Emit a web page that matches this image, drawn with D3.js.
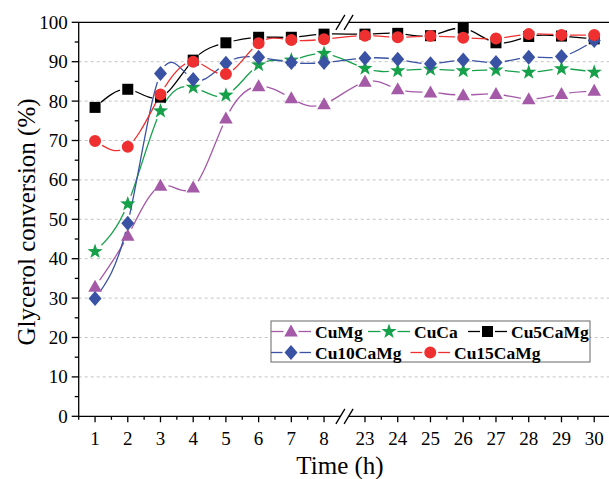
<!DOCTYPE html>
<html><head><meta charset="utf-8">
<script src="https://cdn.jsdelivr.net/npm/d3@7"></script>
<style>body{margin:0;background:#fff}svg{display:block}</style>
</head><body>
<script>
const times = [1,2,3,4,5,6,7,8,23,24,25,26,27,28,29,30];
const xTickLabels = ["1","2","3","4","5","6","7","8","23","24","25","26","27","28","29","30"];
const yTicks = [0,10,20,30,40,50,60,70,80,90,100];
const seriesNames = ["CuMg","CuCa","Cu5CaMg","Cu10CaMg","Cu15CaMg"];
const CuMg     = [32.9,45.8,58.5,58.1,75.6,83.8,80.7,79.2, 84.9,83.0,82.2,81.5,81.8,80.5,81.8,82.6];
const CuCa     = [41.8,53.9,77.5,83.5,81.5,89.2,90.4,92.1, 88.3,87.7,88.1,87.7,87.9,87.3,88.2,87.3];
const Cu5CaMg  = [78.4,83.0,81.0,90.4,94.8,96.2,96.2,97.0, 97.0,97.2,96.6,98.5,94.8,96.4,96.5,95.8];
const Cu10CaMg = [29.9,49.0,87.0,85.5,89.6,91.1,89.8,89.8, 90.9,90.6,89.5,90.4,89.8,91.1,91.3,95.4];
const Cu15CaMg = [69.9,68.4,81.7,90.0,86.9,94.7,95.5,95.7, 96.6,96.2,96.5,96.1,95.9,97.0,96.8,96.8];
const colors = ["#a55aa8","#16a04a","#000000","#3a52a3","#ee3030"];
const markers = ["triangle","star","square","diamond","circle"];
const values = [CuMg,CuCa,Cu5CaMg,Cu10CaMg,Cu15CaMg];

const W=609,H=479;
const svg=d3.select("body").append("svg").attr("width",W).attr("height",H);
const x=d3.scaleLinear().domain([0.5,8.5,22.5,30.5]).range([78.7,340.4,348.6,610.6]);
const y=d3.scaleLinear().domain([0,100]).range([416.3,22.3]);
const font="'Liberation Serif','Times New Roman',serif";

// grid
svg.append("g").selectAll("line").data(yTicks.filter(d=>d>0&&d<100)).join("line")
  .attr("x1",x(0.5)).attr("x2",x(30.5)).attr("y1",d=>y(d)).attr("y2",d=>y(d))
  .attr("stroke","#c4c4c4").attr("stroke-width",1).attr("stroke-dasharray","3,3");

function markerPath(type){
  if(type==="triangle") return "M0,-7L6.8,5L-6.8,5Z";
  if(type==="square") return "M-5.5,-5.5H5.5V5.5H-5.5Z";
  if(type==="diamond") return "M0,-7.5L6.5,0L0,7.5L-6.5,0Z";
  if(type==="circle") return d3.symbol(d3.symbolCircle,113)();
  if(type==="star"){
    let p=[];for(let i=0;i<10;i++){const r=i%2?3.2:8;const a=-Math.PI/2+i*Math.PI/5;p.push([r*Math.cos(a),r*Math.sin(a)]);}
    return "M"+p.map(q=>q.join(",")).join("L")+"Z";
  }
}
const gapR={triangle:8,square:8,diamond:9,circle:8.5,star:9};

const defs=svg.append("defs");
const line=d3.line().x(d=>x(d[0])).y(d=>y(d[1])).curve(d3.curveNatural);
const plot=svg.append("g");
values.forEach((vals,si)=>{
  const pts=times.map((t,i)=>[t,vals[i]]);
  const m=defs.append("mask").attr("id","m"+si).attr("maskUnits","userSpaceOnUse")
    .attr("x",0).attr("y",0).attr("width",W).attr("height",H);
  m.append("rect").attr("width",W).attr("height",H).attr("fill","#fff");
  m.selectAll("circle").data(pts).join("circle").attr("cx",d=>x(d[0])).attr("cy",d=>y(d[1]))
    .attr("r",gapR[markers[si]]).attr("fill","#000");
  plot.append("path").datum(pts).attr("d",line).attr("fill","none")
    .attr("stroke",colors[si]).attr("stroke-width",1.3).attr("mask","url(#m"+si+")");
});
values.forEach((vals,si)=>{
  plot.append("g").selectAll("path").data(times.map((t,i)=>[t,vals[i]])).join("path")
    .attr("d",markerPath(markers[si])).attr("transform",d=>`translate(${x(d[0])},${y(d[1])})`)
    .attr("fill",colors[si]);
});

// axes
const ax=svg.append("g").attr("stroke","#000").attr("stroke-width",1.3);
ax.append("line").attr("x1",x(0.5)).attr("x2",x(0.5)).attr("y1",y(100)).attr("y2",y(0));
yTicks.forEach(v=>{
  ax.append("line").attr("x1",x(0.5)-7).attr("x2",x(0.5)).attr("y1",y(v)).attr("y2",y(v));
  if(v<100) ax.append("line").attr("x1",x(0.5)-4).attr("x2",x(0.5)).attr("y1",y(v+5)).attr("y2",y(v+5));
});
svg.append("g").selectAll("text").data(yTicks).join("text")
  .attr("x",x(0.5)-11).attr("y",d=>y(d)).attr("dy","0.34em").attr("text-anchor","end")
  .attr("font-family",font).attr("font-size",19).text(d=>d);
[y(0),y(100)].forEach(yy=>{
  ax.append("line").attr("x1",x(0.5)).attr("x2",x(8.5)).attr("y1",yy).attr("y2",yy);
  ax.append("line").attr("x1",x(22.5)).attr("x2",x(30.5)).attr("y1",yy).attr("y2",yy);
  [x(8.5),x(22.5)].forEach(cx=>{
    ax.append("line").attr("x1",cx-4.5).attr("x2",cx+4.5).attr("y1",yy+7.5).attr("y2",yy-7.5);
  });
});
times.forEach(t=>{
  ax.append("line").attr("x1",x(t)).attr("x2",x(t)).attr("y1",y(0)).attr("y2",y(0)+6);
});
const minors=[0.5,1.5,2.5,3.5,4.5,5.5,6.5,7.5,23.5,24.5,25.5,26.5,27.5,28.5,29.5];
minors.forEach(t=>{
  ax.append("line").attr("x1",x(t)).attr("x2",x(t)).attr("y1",y(0)).attr("y2",y(0)+3.5);
});
svg.append("g").selectAll("text").data(times).join("text")
  .attr("x",d=>x(d)).attr("y",445).attr("text-anchor","middle")
  .attr("font-family",font).attr("font-size",19).text((d,i)=>xTickLabels[i]);

svg.append("text").attr("x",340).attr("y",474).attr("text-anchor","middle")
  .attr("font-family",font).attr("font-size",25).text("Time (h)");
svg.append("text").attr("transform","translate(35,222) rotate(-90)").attr("text-anchor","middle")
  .attr("font-family",font).attr("font-size",25).text("Glycerol conversion (%)");

// legend
const lg=svg.append("g");
lg.append("rect").attr("x",271).attr("y",321).attr("width",319).attr("height",41)
  .attr("fill","#fff").attr("stroke","#666").attr("stroke-width",1);
const items=[
  {x1:271,x2:311,ty:331.5},{x1:368,x2:410,ty:331.5},{x1:468,x2:507,ty:331.5},
  {x1:271,x2:311,ty:352.5},{x1:410.5,x2:450,ty:352.5}];
items.forEach((it,i)=>{
  const cx=(it.x1+it.x2)/2, g=gapR[markers[i]]-0.5;
  lg.append("line").attr("x1",it.x1).attr("x2",cx-g).attr("y1",it.ty).attr("y2",it.ty).attr("stroke",colors[i]).attr("stroke-width",1.3);
  lg.append("line").attr("x1",cx+g).attr("x2",it.x2).attr("y1",it.ty).attr("y2",it.ty).attr("stroke",colors[i]).attr("stroke-width",1.3);
  lg.append("path").attr("d",markerPath(markers[i])).attr("transform",`translate(${cx},${it.ty})`).attr("fill",colors[i]);
  lg.append("text").attr("x",it.x2+4).attr("y",it.ty).attr("dy","0.35em")
    .attr("font-family",font).attr("font-weight","bold").attr("font-size",17.5).text(seriesNames[i]);
});
</script>
</body></html>
